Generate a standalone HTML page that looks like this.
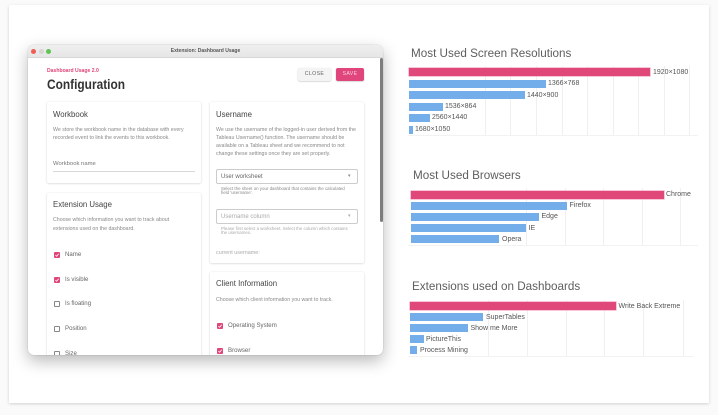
<!DOCTYPE html>
<html><head><meta charset="utf-8">
<style>
*{margin:0;padding:0;box-sizing:border-box}
html,body{width:718px;height:415px;overflow:hidden;background:#fafafa;font-family:"Liberation Sans",Arial,sans-serif}
.abs{position:absolute}
#outer{position:absolute;left:9px;top:5px;width:700px;height:398px;background:#fff;box-shadow:0 1px 3px rgba(0,0,0,0.16)}
#win{position:absolute;left:28px;top:45px;width:355px;height:310px;border-radius:6px;background:#fff;overflow:hidden;box-shadow:0 6px 16px rgba(0,0,0,0.28),0 0 1px rgba(0,0,0,0.3)}
#tb{position:absolute;left:0;top:0;width:355px;height:13px;background:linear-gradient(#efefef,#e6e6e6);border-bottom:1px solid #d8d8d8}
.dot{position:absolute;top:4px;width:5px;height:5px;border-radius:50%}
.t{position:absolute;white-space:nowrap;line-height:1}
.card{position:absolute;background:#fff;border-radius:2px;box-shadow:0 0.5px 2px rgba(0,0,0,0.18)}
.h{font-size:7.8px;color:#444}
.d{font-size:5.25px;color:#888}
.cb{position:absolute;width:6px;height:6px;border-radius:1px}
.cb.on{background:#e0457b}
.cb.off{border:0.8px solid #888;background:#fff}
.lbl{font-size:6.1px;color:#666}
.sel{position:absolute;border:0.8px solid #ccc;border-radius:2px;background:#fff}
.bar{position:absolute;height:8px}
.pk{background:#e0487a;box-shadow:0 0 0 0.6px #f3a0bd}
.bl{background:#74aeea}
.bt{position:absolute;font-size:7px;color:#555;white-space:nowrap;line-height:1}
.ct{position:absolute;font-size:12.3px;color:#5e5e5e;white-space:nowrap;line-height:1;transform:scaleX(0.95);transform-origin:0 0}
.g{position:absolute;width:1px;background:#f0f0f0}
</style></head><body>
<div id="outer"></div>

<div id="win">
  <div id="tb">
    <div class="dot" style="left:3px;background:#ef5d55"></div>
    <div class="dot" style="left:10.5px;background:#d6d6d6"></div>
    <div class="dot" style="left:18px;background:#5ec454"></div>
    <div class="t" style="left:0;width:355px;text-align:center;top:4px;font-size:5px;color:#555;font-weight:bold">Extension: Dashboard Usage</div>
  </div>
  <div class="abs" style="left:352px;top:13px;width:3px;height:164px;background:#7d7d7d;border-radius:1.5px"></div>

  <div class="t" style="left:19px;top:24px;font-size:5.1px;color:#e0457b;font-weight:bold">Dashboard Usage 2.0</div>
  <div class="t" style="left:19px;top:32px;font-size:14px;color:#333;font-weight:bold;transform:scaleX(0.85);transform-origin:0 0">Configuration</div>

  <div class="abs" style="left:270px;top:23px;width:33px;height:13px;background:#f4f4f4;border-radius:2px;box-shadow:0 0.5px 1.5px rgba(0,0,0,0.25)"></div>
  <div class="t" style="left:270px;top:27px;width:33px;text-align:center;font-size:5.2px;color:#666;letter-spacing:0.4px">CLOSE</div>
  <div class="abs" style="left:308px;top:23px;width:28px;height:13px;background:#e0457b;border-radius:2px;box-shadow:0 0.5px 1.5px rgba(0,0,0,0.25)"></div>
  <div class="t" style="left:308px;top:27px;width:28px;text-align:center;font-size:5.2px;color:#fbd3e2;letter-spacing:0.4px">SAVE</div>

  <!-- Workbook card -->
  <div class="card" style="left:19px;top:57px;width:154px;height:81px"></div>
  <div class="t h" style="left:25px;top:66px">Workbook</div>
  <div class="t d" style="left:25px;top:82.5px">We store the workbook name in the database with every</div>
  <div class="t d" style="left:25px;top:90.5px">recorded event to link the events to this workbook.</div>
  <div class="t" style="left:25px;top:117px;font-size:5.9px;color:#777">Workbook name</div>
  <div class="abs" style="left:25px;top:125.5px;width:142px;height:1px;background:#d8d8d8"></div>

  <!-- Extension Usage card -->
  <div class="card" style="left:19px;top:148px;width:154px;height:200px"></div>
  <div class="t h" style="left:25px;top:156px">Extension Usage</div>
  <div class="t d" style="left:25px;top:172.5px">Choose which information you want to track about</div>
  <div class="t d" style="left:25px;top:181.5px">extensions used on the dashboard.</div>

  <div class="cb on" style="left:26px;top:207px"></div><svg class="abs" style="left:26px;top:207px" width="6" height="6"><polyline points="1.4,3.1 2.6,4.3 4.7,1.8" fill="none" stroke="#fff" stroke-width="0.8"/></svg>
  <div class="t lbl" style="left:37px;top:207px">Name</div>
  <div class="cb on" style="left:26px;top:232px"></div><svg class="abs" style="left:26px;top:232px" width="6" height="6"><polyline points="1.4,3.1 2.6,4.3 4.7,1.8" fill="none" stroke="#fff" stroke-width="0.8"/></svg>
  <div class="t lbl" style="left:37px;top:232px">Is visible</div>
  <div class="cb off" style="left:26px;top:256px"></div>
  <div class="t lbl" style="left:37px;top:256px">Is floating</div>
  <div class="cb off" style="left:26px;top:281px"></div>
  <div class="t lbl" style="left:37px;top:281px">Position</div>
  <div class="cb off" style="left:26px;top:306px"></div>
  <div class="t lbl" style="left:37px;top:306px">Size</div>

  <!-- Username card -->
  <div class="card" style="left:182px;top:57px;width:154px;height:161px"></div>
  <div class="t h" style="left:188px;top:66px">Username</div>
  <div class="t d" style="left:188px;top:82.5px">We use the username of the logged-in user derived from the</div>
  <div class="t d" style="left:188px;top:90.5px">Tableau Username() function. The username should be</div>
  <div class="t d" style="left:188px;top:98.5px">available on a Tableau sheet and we recommend to not</div>
  <div class="t d" style="left:188px;top:107px">change these settings once they are set properly.</div>
  <div class="sel" style="left:188px;top:124px;width:142px;height:15px"></div>
  <div class="t" style="left:193px;top:128.5px;font-size:6px;color:#666">User worksheet</div>
  <div class="t" style="left:320px;top:129px;font-size:5px;color:#888">▾</div>
  <div class="t" style="left:193px;top:141.5px;font-size:4.4px;color:#888">Select the sheet on your dashboard that contains the calculated</div>
  <div class="t" style="left:193px;top:146px;font-size:4.4px;color:#888">field 'username'.</div>
  <div class="sel" style="left:188px;top:164px;width:142px;height:15px"></div>
  <div class="t" style="left:193px;top:168.5px;font-size:6px;color:#aaa">Username column</div>
  <div class="t" style="left:320px;top:169px;font-size:5px;color:#aaa">▾</div>
  <div class="t" style="left:193px;top:181.5px;font-size:4.4px;color:#aaa">Please first select a worksheet. Select the column which contains</div>
  <div class="t" style="left:193px;top:186px;font-size:4.4px;color:#aaa">the usernames.</div>
  <div class="t" style="left:188px;top:205.5px;font-size:5.4px;color:#aaa">current username:</div>

  <!-- Client Information card -->
  <div class="card" style="left:182px;top:227px;width:154px;height:120px"></div>
  <div class="t h" style="left:188px;top:235px">Client Information</div>
  <div class="t d" style="left:188px;top:252.5px">Choose which client information you want to track.</div>
  <div class="cb on" style="left:189px;top:278px"></div><svg class="abs" style="left:189px;top:278px" width="6" height="6"><polyline points="1.4,3.1 2.6,4.3 4.7,1.8" fill="none" stroke="#fff" stroke-width="0.8"/></svg>
  <div class="t lbl" style="left:200px;top:278px">Operating System</div>
  <div class="cb on" style="left:189px;top:303px"></div><svg class="abs" style="left:189px;top:303px" width="6" height="6"><polyline points="1.4,3.1 2.6,4.3 4.7,1.8" fill="none" stroke="#fff" stroke-width="0.8"/></svg>
  <div class="t lbl" style="left:200px;top:303px">Browser</div>
</div>

<!-- Chart 1 -->
<div class="ct" style="left:411px;top:47px">Most Used Screen Resolutions</div>
<div class="g" style="left:485px;top:66px;height:69px"></div>
<div class="g" style="left:510px;top:66px;height:69px"></div>
<div class="g" style="left:536px;top:66px;height:69px"></div>
<div class="g" style="left:562px;top:66px;height:69px"></div>
<div class="g" style="left:587px;top:66px;height:69px"></div>
<div class="g" style="left:613px;top:66px;height:69px"></div>
<div class="g" style="left:638px;top:66px;height:69px"></div>
<div class="g" style="left:664px;top:66px;height:69px"></div>
<div class="g" style="left:689px;top:66px;height:69px"></div>
<div class="abs" style="left:408px;top:135px;width:290px;height:1px;background:#f2f2f2"></div>
<div class="bar pk" style="left:409px;top:68px;width:241px"></div><div class="bt" style="left:653px;top:69px">1920×1080</div>
<div class="bar bl" style="left:409px;top:80px;width:137px"></div><div class="bt" style="left:548px;top:80px">1366×768</div>
<div class="bar bl" style="left:409px;top:91px;width:116px"></div><div class="bt" style="left:527px;top:92px">1440×900</div>
<div class="bar bl" style="left:409px;top:102.5px;width:34px"></div><div class="bt" style="left:445px;top:103px">1536×864</div>
<div class="bar bl" style="left:409px;top:114px;width:20.5px"></div><div class="bt" style="left:432px;top:114px">2560×1440</div>
<div class="bar bl" style="left:409px;top:125.5px;width:4px"></div><div class="bt" style="left:415px;top:126px">1680×1050</div>

<!-- Chart 2 -->
<div class="ct" style="left:413px;top:169px">Most Used Browsers</div>
<div class="g" style="left:526px;top:188px;height:57px"></div>
<div class="g" style="left:565px;top:188px;height:57px"></div>
<div class="g" style="left:603px;top:188px;height:57px"></div>
<div class="g" style="left:642px;top:188px;height:57px"></div>
<div class="g" style="left:680px;top:188px;height:57px"></div>
<div class="abs" style="left:408px;top:245px;width:290px;height:1px;background:#f2f2f2"></div>
<div class="bar pk" style="left:410.5px;top:190.5px;width:253px"></div><div class="bt" style="left:666px;top:191px">Chrome</div>
<div class="bar bl" style="left:410.5px;top:201.7px;width:156.5px"></div><div class="bt" style="left:569.5px;top:202px">Firefox</div>
<div class="bar bl" style="left:410.5px;top:212.8px;width:128.5px"></div><div class="bt" style="left:541.5px;top:213px">Edge</div>
<div class="bar bl" style="left:410.5px;top:224px;width:115px"></div><div class="bt" style="left:528.5px;top:224.5px">IE</div>
<div class="bar bl" style="left:410.5px;top:235px;width:88.5px"></div><div class="bt" style="left:502px;top:235.5px">Opera</div>

<!-- Chart 3 -->
<div class="ct" style="left:412px;top:280px">Extensions used on Dashboards</div>
<div class="g" style="left:488px;top:300px;height:56px"></div>
<div class="g" style="left:527px;top:300px;height:56px"></div>
<div class="g" style="left:566px;top:300px;height:56px"></div>
<div class="g" style="left:604px;top:300px;height:56px"></div>
<div class="g" style="left:643px;top:300px;height:56px"></div>
<div class="g" style="left:683px;top:300px;height:56px"></div>
<div class="abs" style="left:408px;top:356px;width:286px;height:1px;background:#f2f2f2"></div>
<div class="bar pk" style="left:410px;top:302px;width:205.7px"></div><div class="bt" style="left:618.5px;top:302.5px">Write Back Extreme</div>
<div class="bar bl" style="left:410px;top:313.3px;width:73.3px"></div><div class="bt" style="left:486px;top:314px">SuperTables</div>
<div class="bar bl" style="left:410px;top:324.3px;width:58px"></div><div class="bt" style="left:470.5px;top:325px">Show me More</div>
<div class="bar bl" style="left:410px;top:335.3px;width:13.7px"></div><div class="bt" style="left:426px;top:336px">PictureThis</div>
<div class="bar bl" style="left:410px;top:346.3px;width:7.3px"></div><div class="bt" style="left:420px;top:347px">Process Mining</div>
</body></html>
